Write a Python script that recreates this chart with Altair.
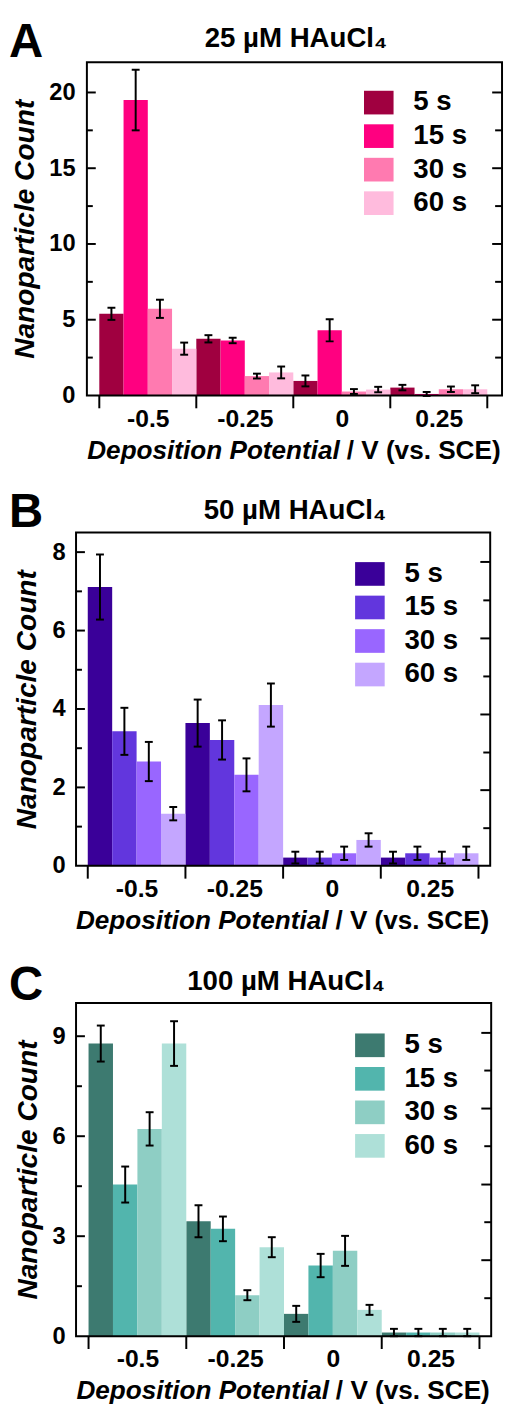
import altair as alt
import pandas as pd

FONT = "Liberation Sans"

# ---------------- data ----------------
potentials = [-0.5, -0.25, 0.0, 0.25]
boundary_ticks = [-0.625, -0.375, -0.125, 0.125, 0.375]
times = ["5 s", "15 s", "30 s", "60 s"]
letters = ["A", "B", "C"]
titles = ["25 µM HAuCl₄", "50 µM HAuCl₄", "100 µM HAuCl₄"]
y_title = "Nanoparticle Count"
x_title_parts = ["Deposition Potential", "/ V (vs. SCE)"]

# rows: 5 s, 15 s, 30 s, 60 s ; columns: -0.5, -0.25, 0, 0.25 V
counts_a = [[5.39, 3.74, 0.96, 0.52],
            [19.5, 3.63, 4.30, 0.10],
            [5.72, 1.28, 0.26, 0.41],
            [3.09, 1.52, 0.39, 0.41]]
errs_a = [[0.40, 0.24, 0.36, 0.18],
          [2.00, 0.18, 0.73, 0.13],
          [0.60, 0.16, 0.16, 0.18],
          [0.40, 0.39, 0.18, 0.26]]

counts_b = [[7.11, 3.64, 0.21, 0.21],
            [3.43, 3.21, 0.21, 0.32],
            [2.66, 2.32, 0.32, 0.21],
            [1.33, 4.10, 0.66, 0.32]]
errs_b = [[0.83, 0.60, 0.15, 0.15],
          [0.60, 0.50, 0.15, 0.17],
          [0.50, 0.42, 0.17, 0.15],
          [0.17, 0.55, 0.17, 0.17]]

counts_c = [[8.78, 3.45, 0.67, 0.11],
            [4.55, 3.22, 2.12, 0.11],
            [6.22, 1.23, 2.56, 0.11],
            [8.78, 2.67, 0.79, 0.11]]
errs_c = [[0.54, 0.48, 0.24, 0.11],
          [0.54, 0.37, 0.35, 0.11],
          [0.50, 0.15, 0.45, 0.11],
          [0.67, 0.30, 0.15, 0.11]]

colors_a = ["#A00040", "#FF0080", "#FF7AB0", "#FFBBDD"]
colors_b = ["#3A0099", "#6236DD", "#9966FF", "#C4A6FF"]
colors_c = ["#3D7A70", "#52B5AD", "#8ECEC4", "#AEE0D8"]

y_max = [22, 8.5, 10]
y_labels_a = [0, 5, 10, 15, 20]
y_minor_a = [2.5, 7.5, 12.5, 17.5]
y_labels_b = [0, 2, 4, 6, 8]
y_minor_b = [1, 3, 5, 7]
y_labels_c = [0, 3, 6, 9]
y_minor_c = [1.5, 4.5, 7.5]
right_long_b = [7.75, 5.80, 3.86, 1.93]
right_short_b = [6.77, 4.83, 2.89, 0.96]
right_long_c = [9.10, 6.83, 4.55, 2.28]
right_short_c = [7.97, 5.70, 3.42, 1.14]

LEGEND_PATH = "M-1.25,-1L1.25,-1L1.25,1L-1.25,1Z"


def text_layer(txt, x, y, size, align="center", italic=False):
    kw = {"fontStyle": "italic"} if italic else {}
    return alt.Chart(pd.DataFrame({"t": [txt]})).mark_text(
        align=align, baseline="alphabetic", fontSize=size, fontWeight="bold",
        font=FONT, color="black", **kw).encode(
        x=alt.value(x), y=alt.value(y), text="t:N")


def panel(letter, title, counts, errs, colors, ymax, y_labels, y_minor,
          r_long, r_short, xdomain, xo, pw, ph, lab_pad, ytx, leg_x, leg_y,
          letter_y, title_x, title_y):
    rows = []
    for ti, t in enumerate(times):
        for pi, p in enumerate(potentials):
            rows.append({"time": t, "order": ti, "potential": p,
                         "count": counts[ti][pi], "err": errs[ti][pi]})
    df = pd.DataFrame(rows)
    n = len(times)

    xs = alt.Scale(domain=xdomain, range=[xo, xo + pw], nice=False, zero=False)
    ys = alt.Scale(domain=[0, ymax], nice=False, zero=False)

    x_axis = alt.Axis(values=potentials, ticks=False, tickSize=0, domain=False,
                      grid=False, labelFontSize=25, labelFont=FONT,
                      labelFontWeight="bold", labelColor="black",
                      labelPadding=11, labelFlush=False, labelOverlap=False,
                      labelExpr="replace(format(datum.value, '.2~f'), '\u2212', '-')",
                      title=None)
    y_axis = alt.Axis(values=y_labels, ticks=False, tickSize=0, domain=False,
                      grid=False, labelFontSize=24, labelFont=FONT,
                      labelFontWeight="bold", labelColor="black",
                      labelPadding=lab_pad, labelFlush=False, labelOverlap=False,
                      title=y_title, titleFontSize=28.5, titleFont=FONT,
                      titleFontWeight="bold", titleFontStyle="italic",
                      titleColor="black", titleX=ytx, titleBaseline="alphabetic")

    def X(field):
        return alt.X(field, scale=xs, axis=x_axis)

    def Y(field):
        return alt.Y(field, scale=ys, axis=y_axis)

    base = alt.Chart(df).transform_calculate(
        x0=f"datum.potential - 0.125 + datum.order * {0.25 / n}"
    ).transform_calculate(
        x1=f"datum.x0 + {0.25 / n}",
        xc=f"datum.x0 + {0.125 / n}",
        lo="datum.count - datum.err",
        hi="datum.count + datum.err",
        zero="0",
    )

    legend = alt.Legend(orient="none", legendX=leg_x, legendY=leg_y, title=None,
                        symbolType=LEGEND_PATH, symbolSize=576,
                        symbolStrokeWidth=0, symbolOpacity=1,
                        labelFontSize=28, labelFont=FONT, labelFontWeight="bold",
                        labelColor="black", labelOffset=21, rowPadding=6,
                        padding=0)

    bars = base.mark_rect().encode(
        x=X("x0:Q"), x2="x1:Q", y=Y("count:Q"), y2="zero:Q",
        color=alt.Color("time:N", scale=alt.Scale(domain=times, range=colors),
                        legend=legend, sort=times),
    )
    err_lines = base.mark_rule(color="black", strokeWidth=2).encode(
        x=X("xc:Q"), y=Y("lo:Q"), y2="hi:Q")
    caps = base.transform_fold(["lo", "hi"], as_=["end", "yv"]).mark_tick(
        orient="horizontal", size=8, thickness=2, color="black", opacity=1
    ).encode(x=X("xc:Q"), y=Y("yv:Q"))

    one = pd.DataFrame({"k": [0]})
    frame = alt.Chart(one).mark_rect(fill="transparent", stroke="black",
                                     strokeWidth=2).encode(
        x=alt.value(xo), x2=alt.value(xo + pw), y=alt.value(0), y2=alt.value(ph))

    def yticks(vals, x1, x2):
        return alt.Chart(pd.DataFrame({"v": vals})).mark_rule(
            color="black", strokeWidth=2).encode(
            y=Y("v:Q"), x=alt.value(x1), x2=alt.value(x2))

    xr = xo + pw
    lt_major = yticks([v for v in y_labels if v > 0], xo, xo + 9)
    lt_minor = yticks(y_minor, xo, xo + 6)
    rt_long = yticks(r_long, xr - 10, xr)
    rt_short = yticks(r_short, xr - 7, xr)

    bt = alt.Chart(pd.DataFrame({"v": boundary_ticks})).mark_rule(
        color="black", strokeWidth=2).encode(
        x=X("v:Q"), y=alt.value(ph), y2=alt.value(ph + 13))

    lett = text_layer(letter, -68, letter_y, 48, align="left")
    ttl = text_layer(title, title_x, title_y, 28)

    cx = xo + pw / 2
    split = cx + 46
    xt1 = text_layer(x_title_parts[0], split, ph + 64, 26.5, align="right", italic=True)
    xt2 = text_layer(x_title_parts[1], split + 7, ph + 64, 26.5, align="left")

    return alt.layer(
        bars, err_lines, caps, frame, lt_major, lt_minor, rt_long, rt_short,
        bt, lett, ttl, xt1, xt2
    ).properties(width=xo + pw, height=ph)


pa = panel(letters[0], titles[0], counts_a, errs_a, colors_a, y_max[0],
           y_labels_a, y_minor_a, y_labels_a[1:], y_minor_a,
           [-0.657, 0.413], 11, 421, 338, 1, -43, 293, 27, -5, 223, -15)
pb = panel(letters[1], titles[1], counts_b, errs_b, colors_b, y_max[1],
           y_labels_b, y_minor_b, right_long_b, right_short_b,
           [-0.655, 0.405], 0, 420, 338, 11, -41, 284, 28, -6, 222, -14)
pc = panel(letters[2], titles[2], counts_c, errs_c, colors_c, y_max[2],
           y_labels_c, y_minor_c, right_long_c, right_short_c,
           [-0.657, 0.405], 0, 421, 338, 11, -40, 284, 29, -2.5, 213, -13)

chart = alt.vconcat(pa, pb, pc, spacing=139, bounds="flush").resolve_scale(
    color="independent", x="independent", y="independent"
).properties(
    padding={"left": 0, "top": 1, "right": 0, "bottom": 1}
).configure(font=FONT).configure_view(stroke="transparent")

chart.save("out.html", embed_options={"renderer": "svg", "actions": False})
